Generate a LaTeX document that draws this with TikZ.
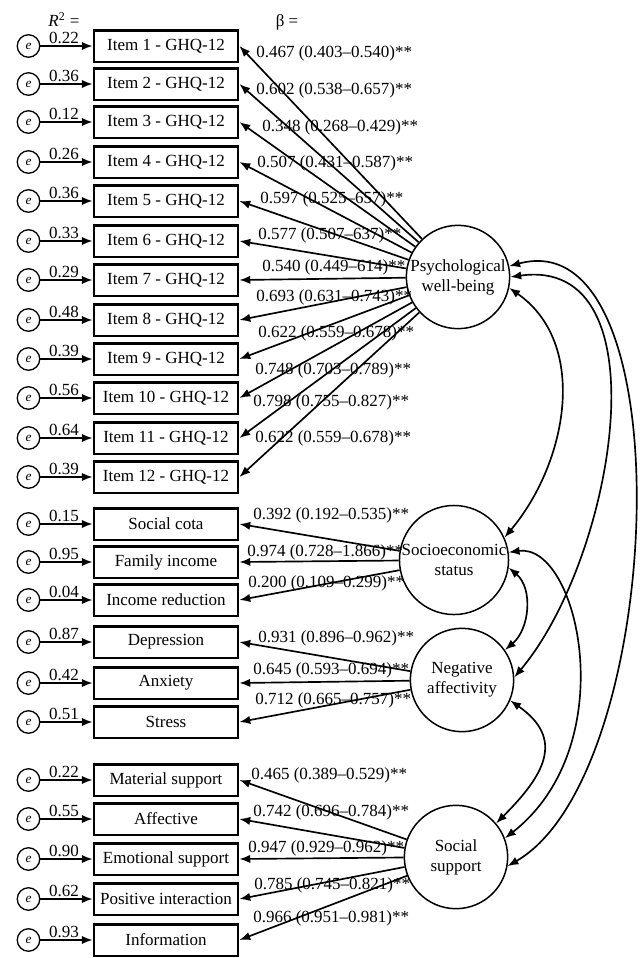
\documentclass[tikz,border=0pt]{standalone}
\usepackage{fontspec}
\setmainfont{Liberation Serif}
\usetikzlibrary{arrows.meta}

\begin{document}
\begin{tikzpicture}[x=0.6pt,y=-0.6pt,font=\fontsize{10.2}{12}\selectfont,
		ind/.style={draw,line width=1.6pt,minimum width=86.5pt,minimum height=19pt,inner sep=0pt},
		err/.style={draw,circle,line width=0.8pt,minimum size=13.5pt,inner sep=0pt,font=\fontsize{8}{9}\selectfont\itshape},
		lat/.style={draw,circle,line width=0.9pt,minimum size=62pt,inner sep=0pt,align=center},
		arr/.style={-{Latex[length=6.5pt,width=5pt]},line width=1pt},
		cov/.style={{Latex[length=6.5pt,width=5pt]}-{Latex[length=6.5pt,width=5pt]},line width=1pt},
		rsq/.style={above,inner sep=1pt,pos=0.45},
		bet/.style={anchor=west,inner sep=0pt}]
		\useasboundingbox (0,0) rectangle (640,958);
		\node (rlab) at (64,20) {\textit{R}\textsuperscript{2} =};
		\node (blab) at (287,22) {β =};
		\node[lat] (pwb) at (458,277) {Psychological\\well-being};
		\node[lat] (ses) at (454,560) {Socioeconomic\\status};
		\node[lat] (na) at (462,680) {Negative\\affectivity};
		\node[lat] (ss) at (456,857) {Social\\support};
		\node[ind] (i1) at (166,46) {Item 1 - GHQ-12};
		\node[ind] (i2) at (166,84) {Item 2 - GHQ-12};
		\node[ind] (i3) at (166,122) {Item 3 - GHQ-12};
		\node[ind] (i4) at (166,162) {Item 4 - GHQ-12};
		\node[ind] (i5) at (166,201) {Item 5 - GHQ-12};
		\node[ind] (i6) at (166,241) {Item 6 - GHQ-12};
		\node[ind] (i7) at (166,280) {Item 7 - GHQ-12};
		\node[ind] (i8) at (166,320) {Item 8 - GHQ-12};
		\node[ind] (i9) at (166,359) {Item 9 - GHQ-12};
		\node[ind] (i10) at (166,398) {Item 10 - GHQ-12};
		\node[ind] (i11) at (166,438) {Item 11 - GHQ-12};
		\node[ind] (i12) at (166,477) {Item 12 - GHQ-12};
		\node[ind] (sc) at (166,524) {Social cota};
		\node[ind] (fi) at (166,562) {Family income};
		\node[ind] (ir) at (166,600) {Income reduction};
		\node[ind] (dep) at (166,642) {Depression};
		\node[ind] (anx) at (166,683) {Anxiety};
		\node[ind] (str) at (166,722) {Stress};
		\node[ind] (ms) at (166,780) {Material support};
		\node[ind] (aff) at (166,819) {Affective};
		\node[ind] (es) at (166,859) {Emotional support};
		\node[ind] (pi) at (166,899) {Positive interaction};
		\node[ind] (inf) at (166,940) {Information};
		\node[err] (e1) at (28.5,46) {e};
		\node[err] (e2) at (28.5,84) {e};
		\node[err] (e3) at (28.5,122) {e};
		\node[err] (e4) at (28.5,162) {e};
		\node[err] (e5) at (28.5,201) {e};
		\node[err] (e6) at (28.5,241) {e};
		\node[err] (e7) at (28.5,280) {e};
		\node[err] (e8) at (28.5,320) {e};
		\node[err] (e9) at (28.5,359) {e};
		\node[err] (e10) at (28.5,398) {e};
		\node[err] (e11) at (28.5,438) {e};
		\node[err] (e12) at (28.5,477) {e};
		\node[err] (esc) at (28.5,524) {e};
		\node[err] (efi) at (28.5,562) {e};
		\node[err] (eir) at (28.5,600) {e};
		\node[err] (edep) at (28.5,642) {e};
		\node[err] (eanx) at (28.5,683) {e};
		\node[err] (estr) at (28.5,722) {e};
		\node[err] (ems) at (28.5,780) {e};
		\node[err] (eaff) at (28.5,819) {e};
		\node[err] (ees) at (28.5,859) {e};
		\node[err] (epi) at (28.5,899) {e};
		\node[err] (einf) at (28.5,940) {e};
		\draw[arr] (e1) -- node[rsq] (r1) {0.22} (i1);
		\draw[arr] (e2) -- node[rsq] (r2) {0.36} (i2);
		\draw[arr] (e3) -- node[rsq] (r3) {0.12} (i3);
		\draw[arr] (e4) -- node[rsq] (r4) {0.26} (i4);
		\draw[arr] (e5) -- node[rsq] (r5) {0.36} (i5);
		\draw[arr] (e6) -- node[rsq] (r6) {0.33} (i6);
		\draw[arr] (e7) -- node[rsq] (r7) {0.29} (i7);
		\draw[arr] (e8) -- node[rsq] (r8) {0.48} (i8);
		\draw[arr] (e9) -- node[rsq] (r9) {0.39} (i9);
		\draw[arr] (e10) -- node[rsq] (r10) {0.56} (i10);
		\draw[arr] (e11) -- node[rsq] (r11) {0.64} (i11);
		\draw[arr] (e12) -- node[rsq] (r12) {0.39} (i12);
		\draw[arr] (esc) -- node[rsq] (rsc) {0.15} (sc);
		\draw[arr] (efi) -- node[rsq] (rfi) {0.95} (fi);
		\draw[arr] (eir) -- node[rsq] (rir) {0.04} (ir);
		\draw[arr] (edep) -- node[rsq] (rdep) {0.87} (dep);
		\draw[arr] (eanx) -- node[rsq] (ranx) {0.42} (anx);
		\draw[arr] (estr) -- node[rsq] (rstr) {0.51} (str);
		\draw[arr] (ems) -- node[rsq] (rms) {0.22} (ms);
		\draw[arr] (eaff) -- node[rsq] (raff) {0.55} (aff);
		\draw[arr] (ees) -- node[rsq] (res) {0.90} (es);
		\draw[arr] (epi) -- node[rsq] (rpi) {0.62} (pi);
		\draw[arr] (einf) -- node[rsq] (rinf) {0.93} (inf);
		\draw[arr] (pwb) -- (i1.east);
		\draw[arr] (pwb) -- (i2.east);
		\draw[arr] (pwb) -- (i3.east);
		\draw[arr] (pwb) -- (i4.east);
		\draw[arr] (pwb) -- (i5.east);
		\draw[arr] (pwb) -- (i6.east);
		\draw[arr] (pwb) -- (i7.east);
		\draw[arr] (pwb) -- (i8.east);
		\draw[arr] (pwb) -- (i9.east);
		\draw[arr] (pwb) -- (i10.east);
		\draw[arr] (pwb) -- (i11.east);
		\draw[arr] (pwb) -- (i12.east);
		\draw[arr] (ses) -- (sc.east);
		\draw[arr] (ses) -- (fi.east);
		\draw[arr] (ses) -- (ir.east);
		\draw[arr] (na) -- (dep.east);
		\draw[arr] (na) -- (anx.east);
		\draw[arr] (na) -- (str.east);
		\draw[arr] (ss) -- (ms.east);
		\draw[arr] (ss) -- (aff.east);
		\draw[arr] (ss) -- (es.east);
		\draw[arr] (ss) -- (pi.east);
		\draw[arr] (ss) -- (inf.east);
		\node[bet] (b1) at (256,53) {0.467 (0.403--0.540)**};
		\node[bet] (b2) at (256,90) {0.602 (0.538--0.657)**};
		\node[bet] (b3) at (262,127) {0.348 (0.268--0.429)**};
		\node[bet] (b4) at (257,163) {0.507 (0.431--0.587)**};
		\node[bet] (b5) at (260,199) {0.597 (0.525--657)**};
		\node[bet] (b6) at (258,235) {0.577 (0.507--637)**};
		\node[bet] (b7) at (262,267) {0.540 (0.449--614)**};
		\node[bet] (b8) at (256,297) {0.693 (0.631--0.743)**};
		\node[bet] (b9) at (258,333) {0.622 (0.559--0.678)**};
		\node[bet] (b10) at (255,370) {0.748 (0.703--0.789)**};
		\node[bet] (b11) at (253,402) {0.798 (0.755--0.827)**};
		\node[bet] (b12) at (255,438) {0.622 (0.559--0.678)**};
		\node[bet] (bsc) at (253,515) {0.392 (0.192--0.535)**};
		\node[bet] (bfi) at (247,552) {0.974 (0.728--1.866)**};
		\node[bet] (bir) at (248,583) {0.200 (0.109--0.299)**};
		\node[bet] (bdep) at (258,638) {0.931 (0.896--0.962)**};
		\node[bet] (banx) at (253,670) {0.645 (0.593--0.694)**};
		\node[bet] (bstr) at (255,700) {0.712 (0.665--0.757)**};
		\node[bet] (bms) at (251,775) {0.465 (0.389--0.529)**};
		\node[bet] (baff) at (253,812) {0.742 (0.696--0.784)**};
		\node[bet] (bes) at (248,848) {0.947 (0.929--0.962)**};
		\node[bet] (bpi) at (254,885) {0.785 (0.745--0.821)**};
		\node[bet] (binf) at (253,918) {0.966 (0.951--0.981)**};
		\draw[cov] (pwb.-12) to[out=-35,in=50] (ses.24);
		\draw[cov] (pwb.0) to[out=8,in=50] (na.3);
		\draw[cov] (pwb.12) to[out=15,in=30,looseness=0.78] (ss.-10);
		\draw[cov] (ses.-8) to[out=-40,in=40] (na.35);
		\draw[cov] (ses.8) to[out=8,in=38,out looseness=0.63,in looseness=1.35] (ss.21);
		\draw[cov] (na.-23) to[out=-35,in=45,looseness=1.4] (ss.40);
	\end{tikzpicture}
\end{document}
